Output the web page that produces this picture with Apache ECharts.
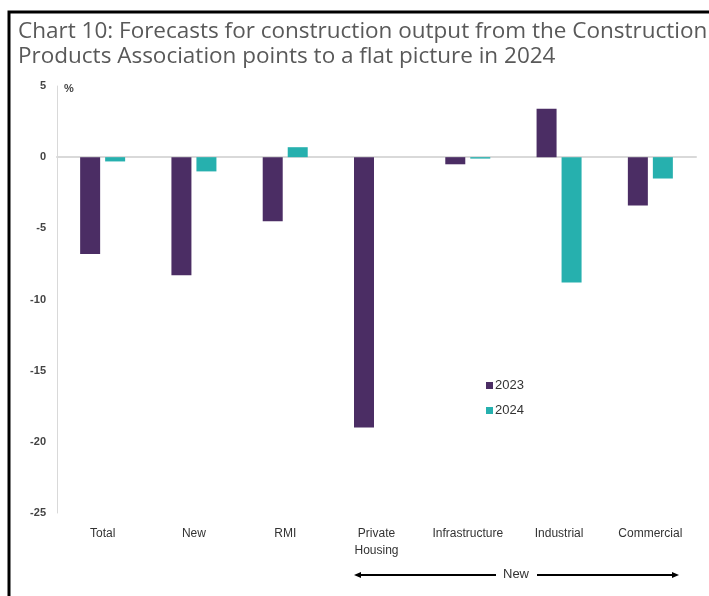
<!DOCTYPE html>
<html>
<head>
<meta charset="utf-8">
<script src="https://cdn.jsdelivr.net/npm/echarts@6/dist/echarts.min.js"></script>
<style>
html, body { margin: 0; padding: 0; background: #fff; }
#chart-panel { width: 709px; height: 596px; }
</style>
</head>
<body>
<div id="chart-panel"></div>
<script>
var categories = ['Total', 'New', 'RMI', 'Private\nHousing', 'Infrastructure', 'Industrial', 'Commercial'];
var values2023 = [-6.8, -8.3, -4.5, -19.0, -0.5, 3.4, -3.4];
var values2024 = [-0.3, -1.0, 0.7, 0, -0.1, -8.8, -1.5];
var yTicks = [5, 0, -5, -10, -15, -20, -25];

var labelFont = "'Liberation Sans Narrow', 'Liberation Sans', Arial, sans-serif";
var myChart = echarts.init(document.getElementById('chart-panel'));

var option = {
	backgroundColor: '#fff',
	animation: false,
	title: {
		text: 'Chart 10: Forecasts for construction output from the Construction\nProducts Association points to a flat picture in 2024',
		left: 13,
		top: 14,
		textStyle: {
			fontFamily: "'Open Sans', sans-serif",
			fontWeight: 'normal',
			fontSize: 22.5,
			lineHeight: 25,
			color: '#595959'
		}
	},
	legend: {
		orient: 'vertical',
		left: 481,
		top: 374,
		itemWidth: 7,
		itemHeight: 7,
		itemGap: 12,
		icon: 'rect',
		data: ['2023', '2024'],
		textStyle: {
			fontFamily: labelFont,
			fontSize: 13,
			color: '#333',
			padding: [0, 0, 0, -3]
		}
	},
	grid: {
		left: 57,
		right: 13,
		top: 86,
		bottom: 83
	},
	xAxis: {
		type: 'category',
		data: categories,
		axisLine: {
			onZero: true,
			lineStyle: { color: '#d9d9d9', width: 2 }
		},
		axisTick: { show: false },
		axisLabel: {
			interval: 0,
			margin: 12,
			fontFamily: labelFont,
			fontSize: 12,
			lineHeight: 17,
			color: '#333',
			verticalAlign: 'top'
		}
	},
	yAxis: {
		type: 'value',
		min: -25,
		max: 5,
		interval: 5,
		axisLine: {
			show: true,
			lineStyle: { color: '#d9d9d9', width: 1 }
		},
		axisTick: { show: false },
		splitLine: { show: false },
		axisLabel: {
			margin: 11,
			fontFamily: labelFont,
			fontSize: 11,
			fontWeight: 'bold',
			color: '#444',
			formatter: function (v) { return yTicks.indexOf(v) >= 0 ? String(v) : ''; }
		}
	},
	series: [
		{
			name: '2023',
			type: 'bar',
			data: values2023,
			barWidth: 20,
			barGap: '25%',
			itemStyle: { color: '#4b2d64' }
		},
		{
			name: '2024',
			type: 'bar',
			data: values2024,
			barWidth: 20,
			itemStyle: { color: '#26b0ae' }
		}
	],
	graphic: [
		{
			type: 'rect',
			shape: { x: 9, y: 12, width: 740, height: 620 },
			style: { fill: null, stroke: '#000', lineWidth: 3 },
			silent: true
		},
		{
			type: 'text',
			left: 64,
			top: 83,
			style: { text: '%', fill: '#444', font: "bold 11px " + labelFont }
		},
		// arrow for the "New" group under the axis
		{
			type: 'line',
			shape: { x1: 358, y1: 575, x2: 496, y2: 575 },
			style: { stroke: '#000', lineWidth: 2 }
		},
		{
			type: 'polygon',
			shape: { points: [[354, 575], [361, 572], [361, 578]] },
			style: { fill: '#000' }
		},
		{
			type: 'text',
			x: 503,
			y: 568,
			style: { text: 'New', fill: '#333', font: "13px " + labelFont }
		},
		{
			type: 'line',
			shape: { x1: 537, y1: 575, x2: 674, y2: 575 },
			style: { stroke: '#000', lineWidth: 2 }
		},
		{
			type: 'polygon',
			shape: { points: [[679, 575], [672, 572], [672, 578]] },
			style: { fill: '#000' }
		}
	]
};
myChart.setOption(option);
</script>
</body>
</html>
